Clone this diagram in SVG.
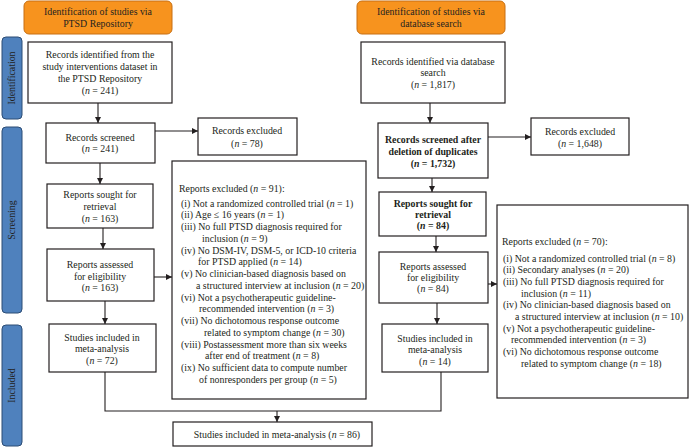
<svg xmlns="http://www.w3.org/2000/svg" width="690" height="448" viewBox="0 0 690 448">
<style>
text{font-family:"Liberation Serif","Times New Roman",serif;font-size:9.85px;fill:#231f20}
.c{text-anchor:middle}
.b{font-weight:bold}
.box{fill:#fff;stroke:#231f20;stroke-width:1.2}
.hdr{fill:#F7931E;stroke:#C76F12;stroke-width:1}
.side{fill:#4F81BD;stroke:#2C4D75;stroke-width:1}
.ln{fill:none;stroke:#231f20;stroke-width:1.1}
.i{font-style:italic}
</style>
<defs>
<marker id="ah" markerUnits="userSpaceOnUse" markerWidth="6" markerHeight="6" refX="6" refY="3" orient="auto">
<path d="M0,0 L6,3 L0,6 z" fill="#231f20"/>
</marker>
</defs>

<g id="side-identification"><rect class="side" x="2" y="37" width="20" height="82" rx="4"/><text class="c" x="12" y="81" transform="rotate(-90 12 78)">Identification</text></g>
<g id="side-screening"><rect class="side" x="2" y="127" width="20" height="186" rx="4"/><text class="c" x="12" y="223" transform="rotate(-90 12 220)">Screening</text></g>
<g id="side-included"><rect class="side" x="2" y="325" width="20" height="121" rx="4"/><text class="c" x="12" y="388.5" transform="rotate(-90 12 385.5)">Included</text></g>

<g id="hdr-left"><rect class="hdr" x="24" y="1" width="148" height="33" rx="5"/><text class="c" x="98" y="14.5">Identification of studies via</text><text class="c" x="98" y="26.5">PTSD Repository</text></g>
<g id="hdr-right"><rect class="hdr" x="357" y="1" width="148" height="33" rx="5"/><text class="c" x="431" y="15">Identification of studies via</text><text class="c" x="431" y="27">database search</text></g>

<g id="l-identified"><rect class="box" x="28" y="42" width="144" height="61"/>
<text class="c" x="100" y="57.5">Records identified from the</text>
<text class="c" x="100" y="69.5">study interventions dataset in</text>
<text class="c" x="100" y="81.5">the PTSD Repository</text>
<text class="c" x="100" y="93.5">(<tspan class="i">n</tspan> = 241)</text></g>

<g id="l-screened"><rect class="box" x="46" y="123" width="109" height="40"/>
<text class="c" x="100" y="140.5">Records screened</text>
<text class="c" x="100" y="152">(<tspan class="i">n</tspan> = 241)</text></g>

<g id="l-excluded"><rect class="box" x="198" y="118" width="99" height="37"/>
<text class="c" x="247" y="133.5">Records excluded</text>
<text class="c" x="247" y="146.5">(<tspan class="i">n</tspan> = 78)</text></g>

<g id="l-sought"><rect class="box" x="47" y="184" width="106" height="44"/>
<text class="c" x="100" y="197.5">Reports sought for</text>
<text class="c" x="100" y="209.5">retrieval</text>
<text class="c" x="100" y="221.5">(<tspan class="i">n</tspan> = 163)</text></g>

<g id="l-assessed"><rect class="box" x="47" y="249" width="107" height="52"/>
<text class="c" x="100" y="267.5">Reports assessed</text>
<text class="c" x="100" y="279.5">for eligibility</text>
<text class="c" x="100" y="290.5">(<tspan class="i">n</tspan> = 163)</text></g>

<g id="l-included"><rect class="box" x="49" y="324" width="107" height="48"/>
<text class="c" x="102" y="340.5">Studies included in</text>
<text class="c" x="102" y="351.5">meta-analysis</text>
<text class="c" x="102" y="363.5">(<tspan class="i">n</tspan> = 72)</text></g>

<g id="l-reports-excluded"><rect class="box" x="172" y="161" width="194" height="238"/>
<text x="179" y="191.5">Reports excluded (<tspan class="i">n</tspan> = 91):</text>
<text x="181" y="206.5">(i) Not a randomized controlled trial (<tspan class="i">n</tspan> = 1)</text>
<text x="181" y="218.25">(ii) Age ≤ 16 years (<tspan class="i">n</tspan> = 1)</text>
<text x="181" y="230">(iii) No full PTSD diagnosis required for</text>
<text x="202" y="241.75">inclusion (<tspan class="i">n</tspan> = 9)</text>
<text x="181" y="253.5">(iv) No DSM-IV, DSM-5, or ICD-10 criteria</text>
<text x="198" y="265.25">for PTSD applied (<tspan class="i">n</tspan> = 14)</text>
<text x="181" y="277">(v) No clinician-based diagnosis based on</text>
<text x="196" y="288.75">a structured interview at inclusion (<tspan class="i">n</tspan> = 20)</text>
<text x="181" y="300.5">(vi) Not a psychotherapeutic guideline-</text>
<text x="199" y="312.25">recommended intervention (<tspan class="i">n</tspan> = 3)</text>
<text x="181" y="324">(vii) No dichotomous response outcome</text>
<text x="204" y="335.75">related to symptom change (<tspan class="i">n</tspan> = 30)</text>
<text x="181" y="347.5">(viii) Postassessment more than six weeks</text>
<text x="205" y="359.25">after end of treatment (<tspan class="i">n</tspan> = 8)</text>
<text x="181" y="371">(ix) No sufficient data to compute number</text>
<text x="199" y="382.75">of nonresponders per group (<tspan class="i">n</tspan> = 5)</text></g>

<g id="r-identified"><rect class="box" x="361" y="42" width="144" height="61"/>
<text class="c" x="433" y="64.5">Records identified via database</text>
<text class="c" x="433" y="75.5">search</text>
<text class="c" x="433" y="87.5">(<tspan class="i">n</tspan> = 1,817)</text></g>

<g id="r-screened"><rect class="box" x="378" y="123" width="110" height="55"/>
<text class="c b" x="433" y="142.5">Records screened after</text>
<text class="c b" x="433" y="154.5">deletion of duplicates</text>
<text class="c b" x="433" y="166.5">(<tspan class="i">n</tspan> = 1,732)</text></g>

<g id="r-excluded"><rect class="box" x="531" y="118" width="98" height="37"/>
<text class="c" x="580" y="134.5">Records excluded</text>
<text class="c" x="580" y="146.5">(<tspan class="i">n</tspan> = 1,648)</text></g>

<g id="r-sought"><rect class="box" x="379" y="192" width="107" height="44"/>
<text class="c b" x="433" y="206.5">Reports sought for</text>
<text class="c b" x="433" y="217.5">retrieval</text>
<text class="c b" x="433" y="228.5">(<tspan class="i">n</tspan> = 84)</text></g>

<g id="r-assessed"><rect class="box" x="379" y="252" width="109" height="51"/>
<text class="c" x="433" y="269.5">Reports assessed</text>
<text class="c" x="433" y="280.5">for eligibility</text>
<text class="c" x="433" y="291.5">(<tspan class="i">n</tspan> = 84)</text></g>

<g id="r-included"><rect class="box" x="382" y="324" width="106" height="48"/>
<text class="c" x="435" y="341.5">Studies included in</text>
<text class="c" x="435" y="353">meta-analysis</text>
<text class="c" x="435" y="364.5">(<tspan class="i">n</tspan> = 14)</text></g>

<g id="r-reports-excluded"><rect class="box" x="497" y="205" width="191" height="193"/>
<text x="502" y="244.5">Reports excluded (<tspan class="i">n</tspan> = 70):</text>
<text x="503" y="261.5">(i) Not a randomized controlled trial (<tspan class="i">n</tspan> = 8)</text>
<text x="503" y="273.2">(ii) Secondary analyses (<tspan class="i">n</tspan> = 20)</text>
<text x="503" y="284.9">(iii) No full PTSD diagnosis required for</text>
<text x="521" y="296.6">inclusion (<tspan class="i">n</tspan> = 11)</text>
<text x="503" y="308.3">(iv) No clinician-based diagnosis based on</text>
<text x="515" y="320">a structured interview at inclusion (<tspan class="i">n</tspan> = 10)</text>
<text x="503" y="331.7">(v) Not a psychotherapeutic guideline-</text>
<text x="511" y="343.4">recommended intervention (<tspan class="i">n</tspan> = 3)</text>
<text x="503" y="355.1">(vi) No dichotomous response outcome</text>
<text x="521" y="366.8">related to symptom change (<tspan class="i">n</tspan> = 18)</text></g>

<g id="final"><rect class="box" x="173" y="422" width="199" height="24"/>
<text class="c" x="277" y="437.5">Studies included in meta-analysis (<tspan class="i">n</tspan> = 86)</text></g>

<g id="connectors">
<line class="ln" x1="98" y1="103" x2="98" y2="123" marker-end="url(#ah)"/>
<line class="ln" x1="155" y1="131" x2="198" y2="131" marker-end="url(#ah)"/>
<line class="ln" x1="100" y1="163" x2="100" y2="184" marker-end="url(#ah)"/>
<line class="ln" x1="103" y1="228" x2="103" y2="249" marker-end="url(#ah)"/>
<line class="ln" x1="154" y1="277" x2="172" y2="277" marker-end="url(#ah)"/>
<line class="ln" x1="105" y1="301" x2="105" y2="324" marker-end="url(#ah)"/>
<polyline class="ln" points="105,372 105,411 441,411 441,372"/>
<line class="ln" x1="277" y1="411" x2="277" y2="422" marker-end="url(#ah)"/>
<line class="ln" x1="430" y1="103" x2="430" y2="123" marker-end="url(#ah)"/>
<line class="ln" x1="488" y1="137" x2="531" y2="137" marker-end="url(#ah)"/>
<line class="ln" x1="432" y1="178" x2="432" y2="192" marker-end="url(#ah)"/>
<line class="ln" x1="436" y1="236" x2="436" y2="252" marker-end="url(#ah)"/>
<line class="ln" x1="488" y1="284" x2="497" y2="284" marker-end="url(#ah)"/>
<line class="ln" x1="437" y1="303" x2="437" y2="324" marker-end="url(#ah)"/>
</g>
</svg>
